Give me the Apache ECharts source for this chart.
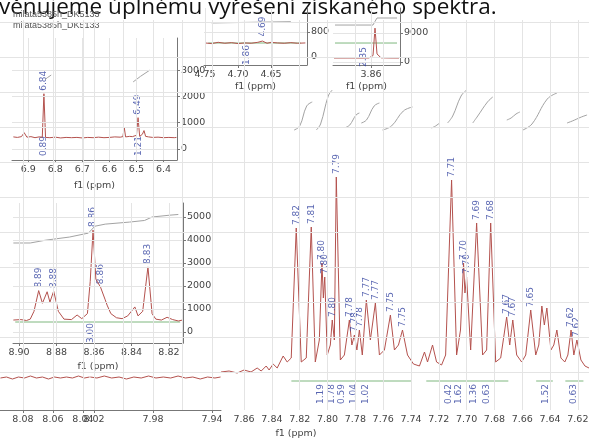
<!DOCTYPE html>
<html>
<head>
<meta charset="utf-8">
<script src="https://cdn.jsdelivr.net/npm/echarts@6.0.0/dist/echarts.min.js"></script>
<style>
html,body{margin:0;padding:0;background:#fff;}
#chart{width:589px;height:442px;}
</style>
</head>
<body>
<div id="chart"></div>
<script>
const FONT = 'DejaVu Sans';
const titleText = 'věnujeme úplnému vyřešení získaného spektra.';
const legendLines = ['milata5385h_DK5133', 'milata5385h_DK5133'];
const axisName = 'f1 (ppm)';

// ---- main spectrum: tick labels and grid lines
const mainLabelsA = [8.08, 8.06, 8.04];
const mainLabelsB = [8.02, 7.98, 7.94];
const mainLabelsC = [7.86, 7.84, 7.82, 7.80, 7.78, 7.76, 7.74, 7.72, 7.70, 7.68, 7.66, 7.64, 7.62];
const mainGridA = [8.08, 8.06, 8.04];
const mainGridB = [8.02, 8.00, 7.98, 7.96, 7.94];
const mainGridC = [7.86, 7.84, 7.82, 7.80, 7.78, 7.76, 7.74, 7.72, 7.70, 7.68, 7.66, 7.64, 7.62];
const mainGridY = [6, 41, 76, 111, 146, 181, 216, 251, 286, 321, 356];

// ---- main spectrum traces [ppm, intensity]
const specA = [[8.0950,0],[8.0910,1],[8.0870,-1],[8.0830,1],[8.0790,0],[8.0750,2],[8.0710,0],[8.0670,1],[8.0630,-1],[8.0590,1],[8.0550,0],[8.0510,1],[8.0470,0],[8.0430,2],[8.0390,0],[8.0356,1]];
const specB = [[8.0225,1],[8.0180,0],[8.0130,2],[8.0080,0],[8.0030,1],[7.9980,-1],[7.9930,1],[7.9880,0],[7.9830,2],[7.9780,0],[7.9730,1],[7.9680,0],[7.9630,2],[7.9580,0],[7.9530,1],[7.9480,-1],[7.9430,1],[7.9380,0],[7.9342,1]];
const specC = [[7.8766,6],[7.8708,7],[7.8650,5],[7.8600,8],[7.8550,6],[7.8506,10],[7.8477,7],[7.8441,12],[7.8420,8],[7.8391,14],[7.8362,10],[7.8319,22],[7.8290,16],[7.8261,20],
 [7.8225,150],[7.8189,16],[7.8153,20],[7.8117,151],[7.8088,16],[7.8059,38],[7.8040,115],[7.8030,80],[7.8020,101],[7.8002,23],[7.7980,33],[7.7966,58],[7.7951,38],
 [7.7937,201],[7.7908,18],[7.7879,23],[7.7843,58],[7.7825,33],[7.7807,43],[7.7789,28],[7.7771,48],[7.7750,23],[7.7721,78],[7.7692,38],[7.7656,75],[7.7627,23],
 [7.7591,28],[7.7548,63],[7.7519,28],[7.7490,33],[7.7461,48],[7.7425,23],[7.7382,14],[7.7339,12],[7.7303,26],[7.7281,16],[7.7245,33],[7.7216,16],[7.7180,13],
 [7.7151,23],[7.7108,198],[7.7072,23],[7.7044,48],[7.7022,115],[7.7012,85],[7.7000,101],[7.6971,28],[7.6928,155],[7.6885,23],[7.6856,28],[7.6827,155],[7.6791,16],
 [7.6755,20],[7.6712,61],[7.6690,33],[7.6668,58],[7.6640,23],[7.6604,16],[7.6575,23],[7.6539,68],[7.6503,23],[7.6481,33],[7.6459,72],[7.6441,53],[7.6423,70],
 [7.6394,28],[7.6373,33],[7.6351,48],[7.6322,20],[7.6294,16],[7.6272,23],[7.6249,48],[7.6229,23],[7.6207,38],[7.6178,18],[7.6149,12],[7.6120,10]];

// peak picks (ppm, top intensity)
const mainPeakPpm = [7.8225,7.8117,7.8040,7.8020,7.7966,7.7937,7.7843,7.7807,7.7771,7.7721,7.7656,7.7548,7.7461,7.7108,7.7022,7.7000,7.6928,7.6827,7.6712,7.6668,7.6539,7.6249,7.6207];
const mainPeakTop = [150,151,115,101,58,201,58,43,48,78,75,63,48,198,115,101,155,155,61,58,68,48,38];

// integrals
const mainIntPpm = [7.8052,7.7973,7.7901,7.7815,7.7728,7.7130,7.7058,7.6950,7.6856,7.6430,7.6228];
const mainIntText = ['1.19','1.78','0.59','1.04','1.02','0.42','1.62','1.36','0.63','1.52','0.63'];
const mainIntBrackets = [[7.8260,7.7400],[7.7290,7.6700],[7.6500,7.6380],[7.6290,7.6160]];
const mainIntCurves = [
 [[7.8240,248],[7.8200,252],[7.8150,272],[7.8110,276]],
 [[7.8081,248],[7.8050,254],[7.7995,282],[7.7966,288]],
 [[7.7865,251],[7.7840,253],[7.7795,263],[7.7771,265]],
 [[7.7757,255],[7.7720,258],[7.7665,272],[7.7627,275]],
 [[7.7605,248],[7.7540,252],[7.7455,267],[7.7389,271]],
 [[7.7252,250],[7.7223,252],[7.7194,255]],
 [[7.7137,255],[7.7100,262],[7.7040,282],[7.7000,288]],
 [[7.6956,255],[7.6920,262],[7.6850,276],[7.6812,281]],
 [[7.6711,258],[7.6680,260],[7.6645,264],[7.6617,266]],
 [[7.6596,248],[7.6530,254],[7.6420,279],[7.6350,285]],
 [[7.6278,255],[7.6240,257],[7.6175,261],[7.6134,263]]
];

// ---- inset 1 (6.9 - 6.4 ppm)
const in1Labels = [6.9, 6.8, 6.7, 6.6, 6.5, 6.4];
const in1YLabels = [0, 1000, 2000, 3000];
const in1Spec = [[6.955,460],[6.940,440],[6.925,470],[6.915,620],[6.905,450],[6.890,470],[6.875,430],[6.860,460],[6.848,450],[6.842,2100],[6.836,440],[6.820,430],[6.800,450],[6.780,420],[6.760,440],[6.740,430],[6.720,440],[6.700,420],[6.680,440],[6.660,430],[6.640,450],[6.620,430],[6.600,440],[6.580,460],[6.560,450],[6.550,470],[6.545,820],[6.540,460],[6.525,480],[6.515,470],[6.500,520],[6.494,1190],[6.488,480],[6.478,560],[6.472,700],[6.466,480],[6.455,460],[6.440,440],[6.420,450],[6.400,430],[6.380,440],[6.360,430],[6.352,440]];
const in1PeakPpm = [6.842, 6.494];
const in1PeakTop = [2100, 1190];
const in1PeakText = ['6.84', '6.49'];
const in1IntPpm = [6.842, 6.490];
const in1IntText = ['0.89', '1.21'];
const in1Curves = [[[6.838,2640],[6.828,2720],[6.815,2810]], [[6.512,2550],[6.485,2760],[6.450,3000]]];

// ---- inset 4 (8.90 - 8.82 ppm)
const in4Labels = [8.90, 8.88, 8.86, 8.84, 8.82];
const in4YLabels = [0, 1000, 2000, 3000, 4000, 5000];
const in4Spec = [[8.9030,520],[8.8990,540],[8.8960,500],[8.8940,560],[8.8920,900],[8.8895,1800],[8.8875,1250],[8.8850,1750],[8.8835,1300],[8.8815,1780],[8.8790,900],[8.8760,560],[8.8720,540],[8.8690,740],[8.8665,580],[8.8635,800],[8.8620,2200],[8.8605,4430],[8.8590,2300],[8.8565,1950],[8.8540,1400],[8.8530,1170],[8.8510,800],[8.8480,620],[8.8450,580],[8.8420,700],[8.8382,1090],[8.8365,700],[8.8340,900],[8.8312,2830],[8.8290,800],[8.8270,560],[8.8240,520],[8.8210,640],[8.8180,540],[8.8150,480],[8.8127,520]];
const in4PeakPpm = [8.8895, 8.8815, 8.8605, 8.8565, 8.8312];
const in4PeakTop = [1800, 1780, 4430, 1950, 2830];
const in4PeakText = ['8.89', '8.88', '8.86', '8.86', '8.83'];
const in4IntPpm = [8.8616];
const in4IntText = ['3.00'];
const in4Curve = [[8.9030,3870],[8.8940,3870],[8.8860,3990],[8.8730,4130],[8.8630,4300],[8.8595,4600],[8.8540,4690],[8.8410,4780],[8.8330,4850],[8.8290,5000],[8.8195,5080],[8.8150,5110]];
const in4Green = [[8.9020,435],[8.8140,435]];

// ---- inset 2 (4.75 - 4.65 ppm)
const in2Labels = [4.75, 4.70, 4.65];
const in2YLabels = [0, 800];
const in2Spec = [[4.750,450],[4.740,430],[4.730,470],[4.720,440],[4.710,460],[4.700,430],[4.690,450],[4.680,440],[4.670,470],[4.663,510],[4.656,440],[4.650,470],[4.640,450],[4.630,440],[4.620,460],[4.610,440],[4.598,450]];
const in2PeakPpm = [4.663];
const in2PeakTop = [560];
const in2PeakText = ['4.69'];
const in2IntPpm = [4.687];
const in2IntText = ['1.86'];
const in2Curve = [[4.740,1090],[4.620,1130]];
const in2Green = [[4.745,448],[4.605,448]];

// ---- inset 3 (3.90 - 3.86 ppm)
const in3Labels = [3.90, 3.86];
const in3YLabels = [0, 9000];
const in3Spec = [[3.897,1240],[3.880,1250],[3.870,1230],[3.862,1260],[3.858,2000],[3.856,10500],[3.854,2500],[3.850,1300],[3.840,1250],[3.832,1240]];
const in3IntPpm = [3.867];
const in3IntText = ['2.35'];
const in3Curve = [[3.896,11470],[3.858,11470],[3.856,12600],[3.854,13650],[3.834,13650]];
const in3Green = [[3.896,5890],[3.834,5890]];

// ================= styling =================
const SPEC = '#b4524e', GRAY = '#a3a3a3', GREEN = '#7fb77f', BLUE = '#2e3f9e', GRIDC = '#e4e4e4';
const TICKFS = 9.5, LABFS = 9;

const chart = echarts.init(document.getElementById('chart'));

function xAx(gi, min, max, labels, digits, extra) {
  return Object.assign({
    gridIndex: gi, type: 'value', inverse: true, min: min, max: max,
    axisLine: {show: true, onZero: false, lineStyle: {color: '#777', width: 1}},
    axisTick: {show: true, customValues: labels, length: 3, lineStyle: {color: '#777'}},
    axisLabel: {customValues: labels, formatter: v => v.toFixed(digits), fontSize: TICKFS, fontFamily: FONT, color: '#444', margin: 5, hideOverlap: false},
    splitLine: {show: false}
  }, extra || {});
}
function yAx(gi, min, max, labels) {
  if (!labels) return {gridIndex: gi, type: 'value', min: min, max: max, show: false, splitLine: {show: false}};
  return {
    gridIndex: gi, type: 'value', min: min, max: max, position: 'right',
    axisLine: {show: true, onZero: false, lineStyle: {color: '#777'}},
    axisTick: {show: true, customValues: labels, length: 3, lineStyle: {color: '#777'}},
    axisLabel: {customValues: labels, formatter: v => String(Math.round(v)), fontSize: TICKFS, fontFamily: FONT, color: '#444', margin: 4},
    splitLine: {show: false}
  };
}
function line(gi, data, color, extra) {
  return Object.assign({type: 'line', xAxisIndex: gi, yAxisIndex: gi, data: data, symbol: 'none', silent: true,
    lineStyle: {color: color, width: 1}, animation: false}, extra || {});
}
function peakLabels(gi, ppm, tops, texts) {
  return {type: 'scatter', xAxisIndex: gi, yAxisIndex: gi, symbolSize: 0, silent: true, animation: false,
    data: ppm.map((p, i) => ({value: [p, tops[i]], name: texts ? texts[i] : p.toFixed(2)})),
    label: {show: true, position: [0, -3], rotate: 90, align: 'left', verticalAlign: 'middle',
      formatter: p => p.name, color: BLUE, fontSize: LABFS, fontFamily: FONT}};
}
function intLabels(gi, ppm, texts, yv) {
  return {type: 'scatter', xAxisIndex: gi, yAxisIndex: gi, symbolSize: 0, silent: true, animation: false,
    data: ppm.map((p, i) => ({value: [p, yv], name: texts[i]})),
    label: {show: true, position: [0, 0], rotate: 90, align: 'right', verticalAlign: 'middle',
      formatter: p => p.name, color: BLUE, fontSize: LABFS, fontFamily: FONT}};
}
function gridLines(xs, ys) {
  return {silent: true, symbol: 'none', label: {show: false}, animation: false,
    lineStyle: {color: GRIDC, type: 'solid', width: 1},
    data: xs.map(v => ({xAxis: v})).concat(ys.map(v => ({yAxis: v})))};
}

const series = [];
// main (drawn beneath the inset panels)
series.push(line(0, specA, SPEC, {z: -1, markLine: gridLines(mainGridA, mainGridY)}));
series.push(line(1, specB, SPEC, {z: -1, markLine: gridLines(mainGridB, mainGridY)}));
series.push(line(2, specC, SPEC, {z: -1, markLine: gridLines(mainGridC, mainGridY)}));
mainIntCurves.forEach(c => series.push(line(2, c, GRAY, {smooth: 0.4})));
mainIntBrackets.forEach(b => series.push(line(2, [[b[0], -3], [b[1], -3]], GREEN)));
series.push(peakLabels(2, mainPeakPpm, mainPeakTop, null));
series.push(intLabels(2, mainIntPpm, mainIntText, -6));
// inset 1
series.push(line(3, in1Spec, SPEC, {markLine: gridLines(in1Labels, in1YLabels)}));
in1Curves.forEach(c => series.push(line(3, c, GRAY)));
series.push(peakLabels(3, in1PeakPpm, in1PeakTop, in1PeakText));
series.push(intLabels(3, in1IntPpm, in1IntText, 494));
// inset 4
series.push(line(4, in4Green, GREEN, {markLine: gridLines(in4Labels, in4YLabels)}));
series.push(line(4, in4Spec, SPEC));
series.push(line(4, in4Curve, GRAY));
series.push(peakLabels(4, in4PeakPpm, in4PeakTop, in4PeakText));
series.push(intLabels(4, in4IntPpm, in4IntText, 390));
// inset 2
series.push(line(5, in2Green, GREEN, {markLine: gridLines(in2Labels, in2YLabels)}));
series.push(line(5, in2Spec, SPEC));
series.push(line(5, in2Curve, GRAY));
series.push(peakLabels(5, in2PeakPpm, in2PeakTop, in2PeakText));
series.push(intLabels(5, in2IntPpm, in2IntText, 384));
// inset 3
series.push(line(6, in3Green, GREEN, {markLine: gridLines(in3Labels, in3YLabels)}));
series.push(line(6, in3Spec, SPEC));
series.push(line(6, in3Curve, GRAY));
series.push(intLabels(6, in3IntPpm, in3IntText, 4650));

const nameStyle = {fontSize: TICKFS, fontFamily: FONT, color: '#444'};
const G = (l, t, w, h) => ({left: l, top: t, width: w, height: h, containLabel: false, outerBoundsMode: 'none'});
const GI = (l, t, w, h) => Object.assign(G(l, t, w, h), {show: true, backgroundColor: '#fff', borderWidth: 0});

chart.setOption({
  animation: false,
  backgroundColor: '#fff',
  grid: [
    G(0, 20, 90, 390),
    G(90, 20, 131, 390),
    G(221, 20, 368, 390),
    GI(12, 38, 165, 122),
    GI(13, 203, 170, 140),
    GI(204, 8, 103, 57),
    GI(333, 8, 67, 57)
  ],
  xAxis: [
    xAx(0, 8.0353, 8.0953, mainLabelsA, 2),
    xAx(1, 7.9339, 8.0227, mainLabelsB, 2),
    xAx(2, 7.6120, 7.8766, mainLabelsC, 2, {axisLine: {show: false}}),
    xAx(3, 6.35, 6.96, in1Labels, 1, {name: axisName, nameLocation: 'middle', nameGap: 21, nameTextStyle: nameStyle}),
    xAx(4, 8.8125, 8.9032, in4Labels, 2, {name: axisName, nameLocation: 'middle', nameGap: 19, nameTextStyle: nameStyle}),
    xAx(5, 4.5955, 4.7515, in2Labels, 2, {name: axisName, nameLocation: 'middle', nameGap: 17, nameTextStyle: nameStyle}),
    xAx(6, 3.831, 3.898, in3Labels, 2, {name: axisName, nameLocation: 'middle', nameGap: 17, nameTextStyle: nameStyle})
  ],
  yAxis: [
    yAx(0, -32, 358), yAx(1, -32, 358), yAx(2, -32, 358),
    yAx(3, -418, 4218, in1YLabels),
    yAx(4, -478, 5609, in4YLabels),
    yAx(5, -256, 1568, in2YLabels),
    yAx(6, -931, 16758, in3YLabels)
  ],
  series: series,
  graphic: [
    {type: 'text', x: -1, y: 8, silent: true, style: {text: titleText, font: '22.5px "Open Sans"', fill: '#111', verticalAlign: 'middle'}},
    {type: 'text', x: 13, y: 15, silent: true, style: {text: legendLines[0], font: '9px "Liberation Sans"', fill: '#555', verticalAlign: 'middle'}},
    {type: 'text', x: 13, y: 26, silent: true, style: {text: legendLines[1], font: '9px "Liberation Sans"', fill: '#555', verticalAlign: 'middle'}},
    {type: 'text', x: 296, y: 434, silent: true, style: {text: axisName, font: '9.5px "DejaVu Sans"', fill: '#444', align: 'center', verticalAlign: 'middle'}}
  ]
});
</script>
</body>
</html>
